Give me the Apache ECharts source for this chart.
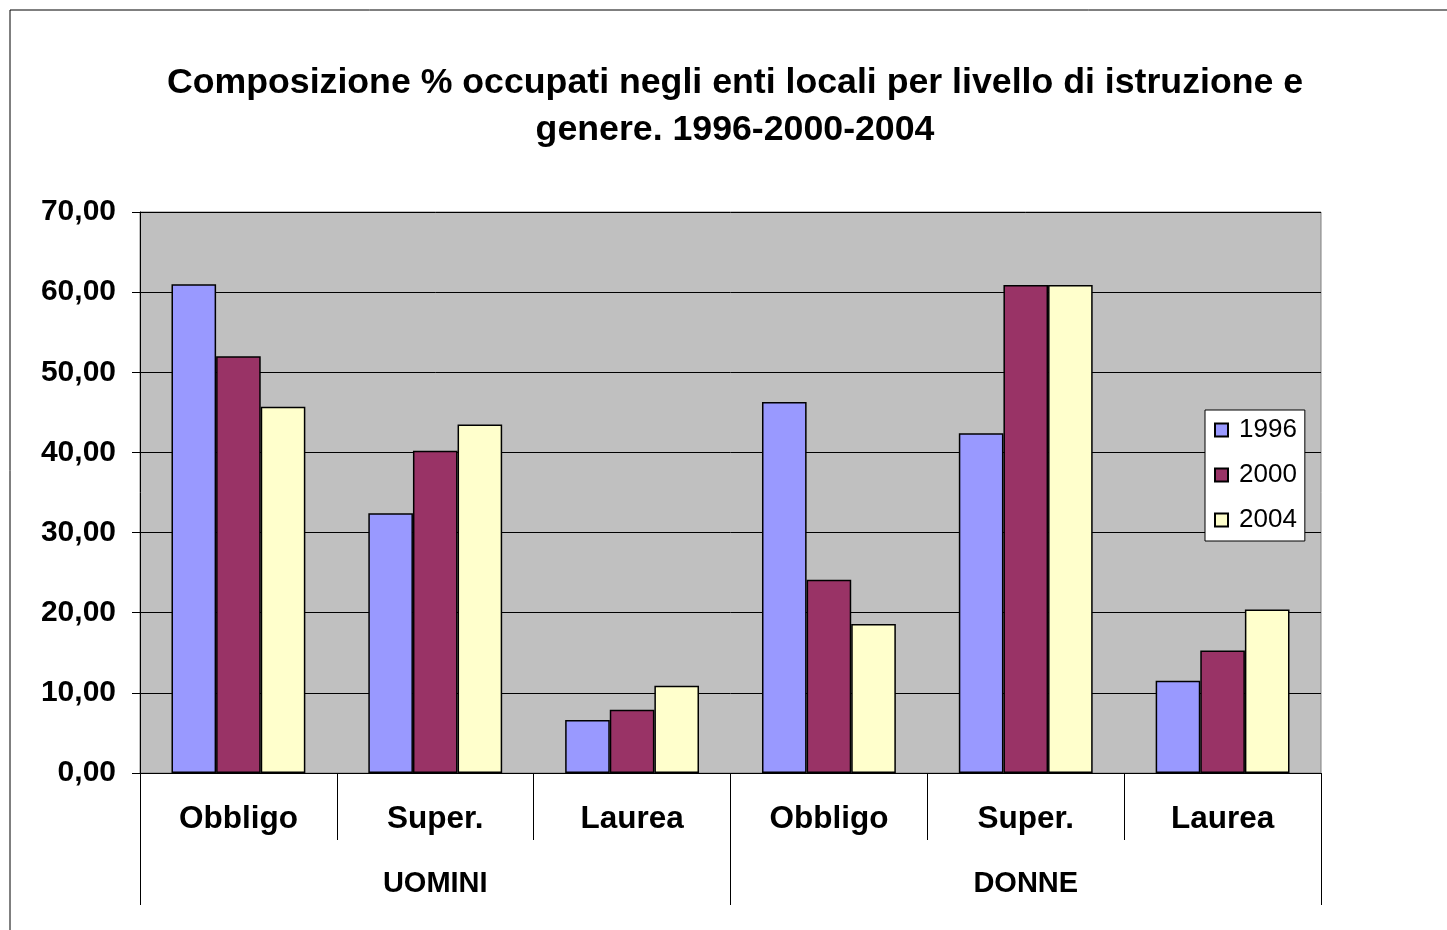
<!DOCTYPE html>
<html>
<head>
<meta charset="utf-8">
<script src="https://cdn.jsdelivr.net/npm/echarts@6/dist/echarts.min.js"></script>
<style>
  html, body { margin: 0; padding: 0; background: #fff; }
  #chart { width: 1447px; height: 930px; }
</style>
</head>
<body>
<div id="chart"></div>
<script>
const livelli = ['Obbligo', 'Super.', 'Laurea', 'Obbligo', 'Super.', 'Laurea'];
const generi = ['UOMINI', 'DONNE'];
const anni = ['1996', '2000', '2004'];

const v1996 = [61.0, 32.4, 6.6, 46.3, 42.4, 11.5];
const v2000 = [52.0, 40.2, 7.9, 24.1, 60.9, 15.3];
const v2004 = [45.7, 43.5, 10.9, 18.6, 60.9, 20.4];

const colori = ['#9999FF', '#993366', '#FFFFCC'];
const valori = [v1996, v2000, v2004];

const font = 'Liberation Sans, Arial, sans-serif';
const chart = echarts.init(document.getElementById('chart'));

const serie = anni.map((a, i) => ({
    name: a,
    type: 'bar',
    data: valori[i],
    barGap: '0%',
    barCategoryGap: '32%',
    itemStyle: { color: colori[i], borderColor: '#000', borderWidth: 1.5 }
}));

chart.setOption({
    animation: false,
    textStyle: { fontFamily: font },
    title: {
        text: 'Composizione % occupati negli enti locali per livello di istruzione e\ngenere. 1996-2000-2004',
        left: 730,
        top: 55,
        textAlign: 'center',
        textStyle: { fontSize: 35.7, fontWeight: 'bold', lineHeight: 47, color: '#000', fontFamily: font }
    },
    graphic: [{
        type: 'rect',
        shape: { x: 10, y: 10, width: 1460, height: 940 },
        style: { fill: 'none', stroke: '#000', lineWidth: 1 },
        silent: true
    }],
    legend: {
        orient: 'vertical',
        left: 1205,
        top: 410,
        icon: 'rect',
        itemWidth: 13,
        itemHeight: 13,
        itemGap: 19,
        padding: [7, 8, 8, 9],
        backgroundColor: '#fff',
        borderColor: '#000',
        borderWidth: 1,
        textStyle: { fontSize: 26, color: '#000', fontFamily: font, padding: [0, 0, 0, 6] },
        data: anni
    },
    grid: {
        left: 140, right: 126, top: 212, bottom: 157,
        show: true, backgroundColor: '#C0C0C0', borderColor: '#808080', borderWidth: 1
    },
    xAxis: [{
        type: 'category',
        data: livelli,
        axisLine: { lineStyle: { color: '#000', width: 1 } },
        axisTick: { show: true, interval: 0, length: 67, lineStyle: { color: '#000' } },
        axisLabel: { interval: 0, margin: 30, fontSize: 31.5, fontWeight: 'bold', color: '#000', fontFamily: font }
    }, {
        type: 'category',
        data: generi,
        position: 'bottom',
        axisLine: { show: false },
        axisTick: { show: true, interval: 0, length: 132, lineStyle: { color: '#000' } },
        axisLabel: { interval: 0, margin: 96, fontSize: 29, fontWeight: 'bold', color: '#000', fontFamily: font }
    }],
    yAxis: {
        type: 'value',
        min: 0,
        max: 70,
        interval: 10,
        axisLine: { show: true, lineStyle: { color: '#000' } },
        axisTick: { show: true, length: 8, lineStyle: { color: '#000' } },
        splitLine: { lineStyle: { color: '#000', width: 1 } },
        axisLabel: {
            margin: 24, fontSize: 30, fontWeight: 'bold', color: '#000', fontFamily: font,
            formatter: v => v.toFixed(2).replace('.', ',')
        }
    },
    series: serie
});
</script>
</body>
</html>
